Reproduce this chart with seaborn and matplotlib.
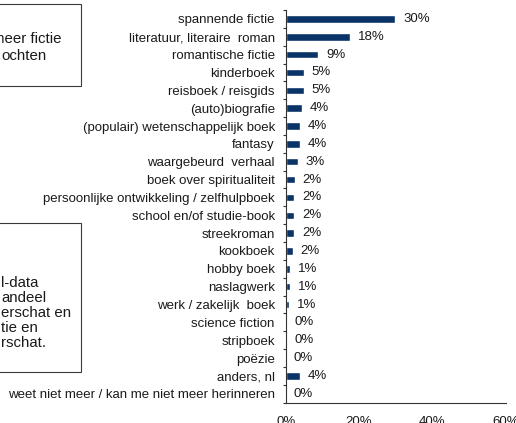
import matplotlib
matplotlib.use("Agg")
import matplotlib.pyplot as plt
import numpy as np
import pandas as pd
import seaborn as sns
from matplotlib.patches import Rectangle
from matplotlib.ticker import FixedLocator

# Genres and the share of respondents (%) per genre
categories = [
    "spannende fictie",
    "literatuur, literaire  roman",
    "romantische fictie",
    "kinderboek",
    "reisboek / reisgids",
    "(auto)biografie",
    "(populair) wetenschappelijk boek",
    "fantasy",
    "waargebeurd  verhaal",
    "boek over spiritualiteit",
    "persoonlijke ontwikkeling / zelfhulpboek",
    "school en/of studie-book",
    "streekroman",
    "kookboek",
    "hobby boek",
    "naslagwerk",
    "werk / zakelijk  boek",
    "science fiction",
    "stripboek",
    "poëzie",
    "anders, nl",
    "weet niet meer / kan me niet meer herinneren",
]
shares = [29.9, 17.6, 8.8, 4.9, 4.9, 4.4, 3.8, 3.8, 3.3, 2.4, 2.2, 2.2,
          2.2, 1.9, 1.1, 1.1, 0.8, 0.2, 0.2, 0.0, 3.8, 0.0]
x_ticks = [0, 20, 40, 60]

# Side notes (visible line fragments)
note_top = ["meer fictie", "ochten"]
note_bottom = ["l-data", "andeel", "erschat en", "tie en", "rschat."]

BAR = "#0A3468"
INK = "#1a1a1a"
FONT = 9.5
NOTE_FONT = 10.8

sns.set_theme(style="white")
plt.rcParams["font.family"] = ["Liberation Sans", "DejaVu Sans"]

W, H = 516, 423
fig = plt.figure(figsize=(W / 100, H / 100), dpi=100)


def px_box(left, top, right, bottom):
    return [left / W, 1 - bottom / H, (right - left) / W, (bottom - top) / H]


# Overlay in pixel coordinates for the note boxes
ov = fig.add_axes([0, 0, 1, 1], zorder=0)
ov.set_xlim(0, W)
ov.set_ylim(H, 0)
ov.axis("off")
ov.patch.set_alpha(0)

ax = fig.add_axes(px_box(285.7, 10, 505.7, 402.7), zorder=1)
ax.patch.set_alpha(0)

df = pd.DataFrame({"genre": categories, "aandeel": shares})
sns.barplot(data=df, x="aandeel", y="genre", orient="h", color=BAR,
            saturation=1, width=0.42, errorbar=None, ax=ax)

n = len(categories)
ax.set_xlim(0, 60)
ax.set_ylim(n - 0.5, -0.5)
ax.set_xlabel("")
ax.set_ylabel("")

for side in ("top", "right"):
    ax.spines[side].set_visible(False)
for side in ("left", "bottom"):
    ax.spines[side].set_color("#333333")
    ax.spines[side].set_linewidth(0.8)

ax.set_xticks(x_ticks)
ax.set_xticklabels([f"{t}%" for t in x_ticks])
ax.tick_params(axis="x", which="major", direction="out", length=2.3, width=0.8,
               color="#333333", pad=7.5, labelsize=FONT, labelcolor=INK)
ax.tick_params(axis="y", which="major", length=0, pad=7.8,
               labelsize=FONT, labelcolor=INK)
ax.yaxis.set_minor_locator(FixedLocator(np.arange(-0.5, n, 1.0)))
ax.tick_params(axis="y", which="minor", direction="out", length=2.3,
               width=0.8, color="#333333", left=True)

for i, v in enumerate(shares):
    ax.annotate(f"{v:.0f}%", xy=(v, i), xytext=(5.8, 0),
                textcoords="offset points", ha="left", va="center",
                fontsize=FONT, color=INK)

# Note boxes on the left
ov.add_patch(Rectangle((-5, 4), 86, 82, facecolor="white",
                       edgecolor="#3a3a3a", linewidth=0.8))
ov.add_patch(Rectangle((-5, 223), 86, 149, facecolor="white",
                       edgecolor="#3a3a3a", linewidth=0.8))

for txt, xl, yb in zip(note_top, [-8, 1], [43, 60]):
    ov.text(xl, yb, txt, ha="left", va="baseline", fontsize=NOTE_FONT,
            color=INK)
for txt, yb in zip(note_bottom, [287, 302, 317, 332, 347]):
    ov.text(1, yb, txt, ha="left", va="baseline", fontsize=NOTE_FONT,
            color=INK)

fig.savefig("out.png", dpi=100)
